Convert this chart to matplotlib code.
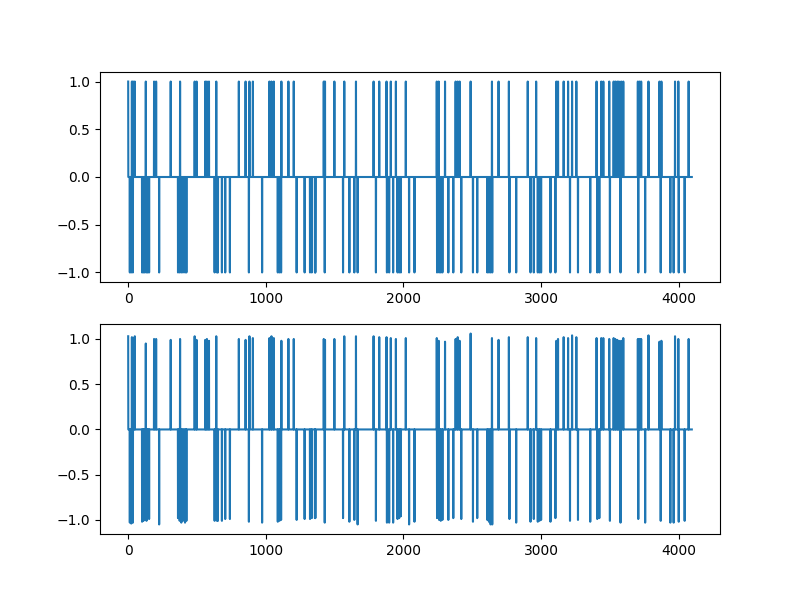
import matplotlib
matplotlib.use("Agg")
import matplotlib.pyplot as plt
import numpy as np

N_SAMPLES = 4096

# positions of the +1 / -1 spikes
pos_idx = [0, 27, 36, 48, 128, 188, 203, 309, 377, 483, 497, 560, 572, 587, 640,
           804, 853, 881, 906, 1026, 1041, 1058, 1113, 1164, 1203,
           1421, 1430, 1498, 1570, 1655, 1783, 1824, 1877, 1908, 1945, 2017,
           2242, 2256, 2302, 2379, 2394, 2408, 2488, 2643, 2691, 2766,
           2903, 2964, 3111, 3123, 3164, 3196, 3225, 3256, 3403, 3437, 3452,
           3495, 3527, 3539, 3553, 3565, 3582, 3597, 3703, 3715, 3727, 3780,
           3860, 3874, 3973, 3997, 4072]
neg_idx = [12, 22, 34, 101, 111, 121, 133, 142, 152, 225, 362, 374, 386, 398, 413,
           423, 628, 645, 652, 681, 705, 739, 877, 973, 1087, 1099, 1111, 1224,
           1282, 1321, 1357,
           1334, 1360, 1428, 1561, 1607, 1643, 1667, 1800, 1880, 1896, 1925, 1957,
           1969, 1981, 2041, 2080, 2244, 2259, 2271, 2283, 2326, 2362, 2420, 2505,
           2536, 2609, 2621, 2633, 2645, 2770, 2819,
           2923, 2947, 2976, 2988, 3000, 3068, 3104, 3210, 3268, 3357, 3408, 3423,
           3500, 3577, 3706, 3756, 3869, 3939, 3963, 4000, 4043]

# reconstructed amplitudes at the same positions (bottom panel)
pos_rec = [1.03, 1.02, 1.01, 1.03, 0.95, 1.00, 1.00, 0.99, 1.00, 1.03, 0.99, 0.99,
           1.00, 0.98, 1.03, 1.00, 0.99, 1.03, 1.01, 1.01, 1.03, 1.01, 0.98, 1.00,
           1.00,
           1.00, 0.99, 1.00, 1.03, 1.03, 1.03, 1.02, 1.02, 1.01, 1.00, 1.01, 1.01,
           0.98, 0.97, 1.00, 1.02, 0.98, 1.06, 1.01, 0.99, 1.02,
           1.02, 1.01, 0.98, 1.00, 1.02, 1.01, 1.04, 1.02, 1.01, 1.01, 1.01, 1.00,
           1.01, 1.00, 0.99, 0.98, 0.98, 1.01, 1.00, 1.00, 1.00, 1.04, 0.97, 0.98,
           1.03, 1.00, 1.00]
neg_rec = [-1.03, -1.04, -1.03, -1.02, -1.01, -1.00, -1.01, -0.98, -0.99, -1.05,
           -0.98, -1.01, -1.03, -1.01, -1.03, -1.01, -1.01, -1.01, -1.01, -1.01,
           -0.99, -0.99, -1.02, -1.03, -1.02, -1.01, -1.00, -1.00, -0.99, -0.99,
           -0.98,
           -0.98, -0.98, -1.03, -0.98, -1.02, -1.00, -1.05, -1.01, -1.03, -1.03,
           -1.03, -0.99, -0.98, -0.96, -1.05, -1.02, -0.98, -1.00, -1.01, -1.00,
           -1.00, -0.98, -0.99, -1.02, -0.98, -1.00, -1.02, -1.05, -1.05, -0.99,
           -1.03,
           -1.02, -0.99, -1.02, -1.01, -1.00, -1.02, -0.98, -1.01, -1.00, -1.02,
           -0.99, -0.98, -1.01, -1.03, -0.99, -1.03, -1.01, -1.03, -1.03, -1.02,
           -1.01]

original = np.zeros(N_SAMPLES)
original[pos_idx] = 1.0
original[neg_idx] = -1.0

recovered = np.zeros(N_SAMPLES)
recovered[pos_idx] = pos_rec
recovered[neg_idx] = neg_rec

fig, (ax1, ax2) = plt.subplots(2, 1, figsize=(8, 6), dpi=100)
ax1.plot(original)
ax2.plot(recovered)

fig.savefig("out.png")
